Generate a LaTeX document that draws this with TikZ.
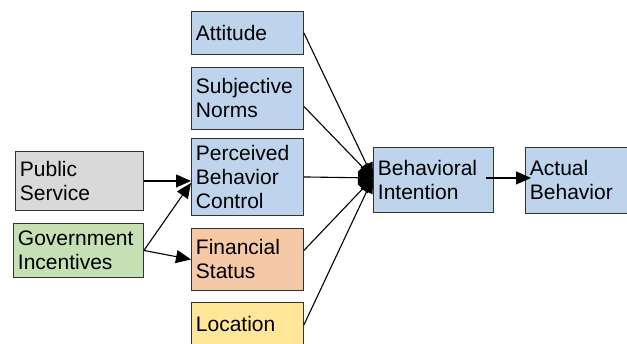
\documentclass[tikz,border=0pt]{standalone}
\usepackage{fontspec}
\setmainfont{Liberation Sans}
\usetikzlibrary{arrows.meta}
\definecolor{cgrey}{HTML}{D9D9D9}
\definecolor{cgreen}{HTML}{C6E0B4}
\definecolor{cblue}{HTML}{BDD4EC}
\definecolor{corange}{HTML}{F6C9A6}
\definecolor{cyellow}{HTML}{FFE699}
\begin{document}
\begin{tikzpicture}[x=1pt,y=-1pt,
  box/.style={draw=black!80, line width=0.9pt, anchor=north west, inner xsep=4.5pt, inner ysep=0pt,
    align=left, font=\fontsize{21}{24}\selectfont},
  arr/.style={line width=1.1pt, -{Triangle[length=15pt,width=13pt]}}]
\useasboundingbox (0,0) rectangle (627,343);
\clip (0,0) rectangle (627,343);
\fill[white] (0,0) rectangle (627,343);
\node[box, fill=cblue, minimum width=112pt, minimum height=43pt, text width=103pt] (att) at (191,11) {Attitude};
\node[box, fill=cblue, minimum width=112pt, minimum height=62pt, text width=103pt] (sn) at (191,67) {Subjective\\Norms};
\node[box, fill=cblue, minimum width=112pt, minimum height=77pt, text width=103pt] (pbc) at (191,138) {Perceived\\Behavior\\Control};
\node[box, fill=corange, minimum width=112pt, minimum height=62pt, text width=103pt] (fs) at (191,228) {Financial\\Status};
\node[box, fill=cyellow, minimum width=112pt, minimum height=43pt, text width=103pt] (loc) at (191,302) {Location};
\node[box, fill=cgrey, minimum width=128pt, minimum height=59pt, text width=119pt] (ps) at (15,151) {Public\\Service};
\node[box, fill=cgreen, minimum width=130pt, minimum height=54pt, text width=121pt] (gi) at (13,223) {Government\\Incentives};
\node[box, fill=cblue, minimum width=120pt, minimum height=65pt, text width=111pt] (bi) at (373,147) {Behavioral\\Intention};
\node[box, fill=cblue, minimum width=112pt, minimum height=66pt, text width=103pt] (ab) at (525,147) {Actual\\Behavior};
\coordinate (hub) at ([yshift=2pt]bi.west);
\draw[arr] (ps.east) -- (ps.east -| pbc.west);
\draw[arr] (gi.east) -- ([yshift=-6pt]pbc.west);
\draw[arr] (gi.east) -- (fs.west);
\draw[arr] (att.east) -- (hub);
\draw[arr] ([yshift=-8pt]sn.east) -- (hub);
\draw[arr] (pbc.east) -- (hub);
\draw[arr] ([yshift=9pt]fs.east) -- (hub);
\draw[arr] ([yshift=-1pt]loc.east) -- (hub);
\draw[arr, shorten <=-8pt, shorten >=-6pt] ([yshift=2pt]bi.east) -- ([yshift=2pt]bi.east -| ab.west);
\end{tikzpicture}
\end{document}
